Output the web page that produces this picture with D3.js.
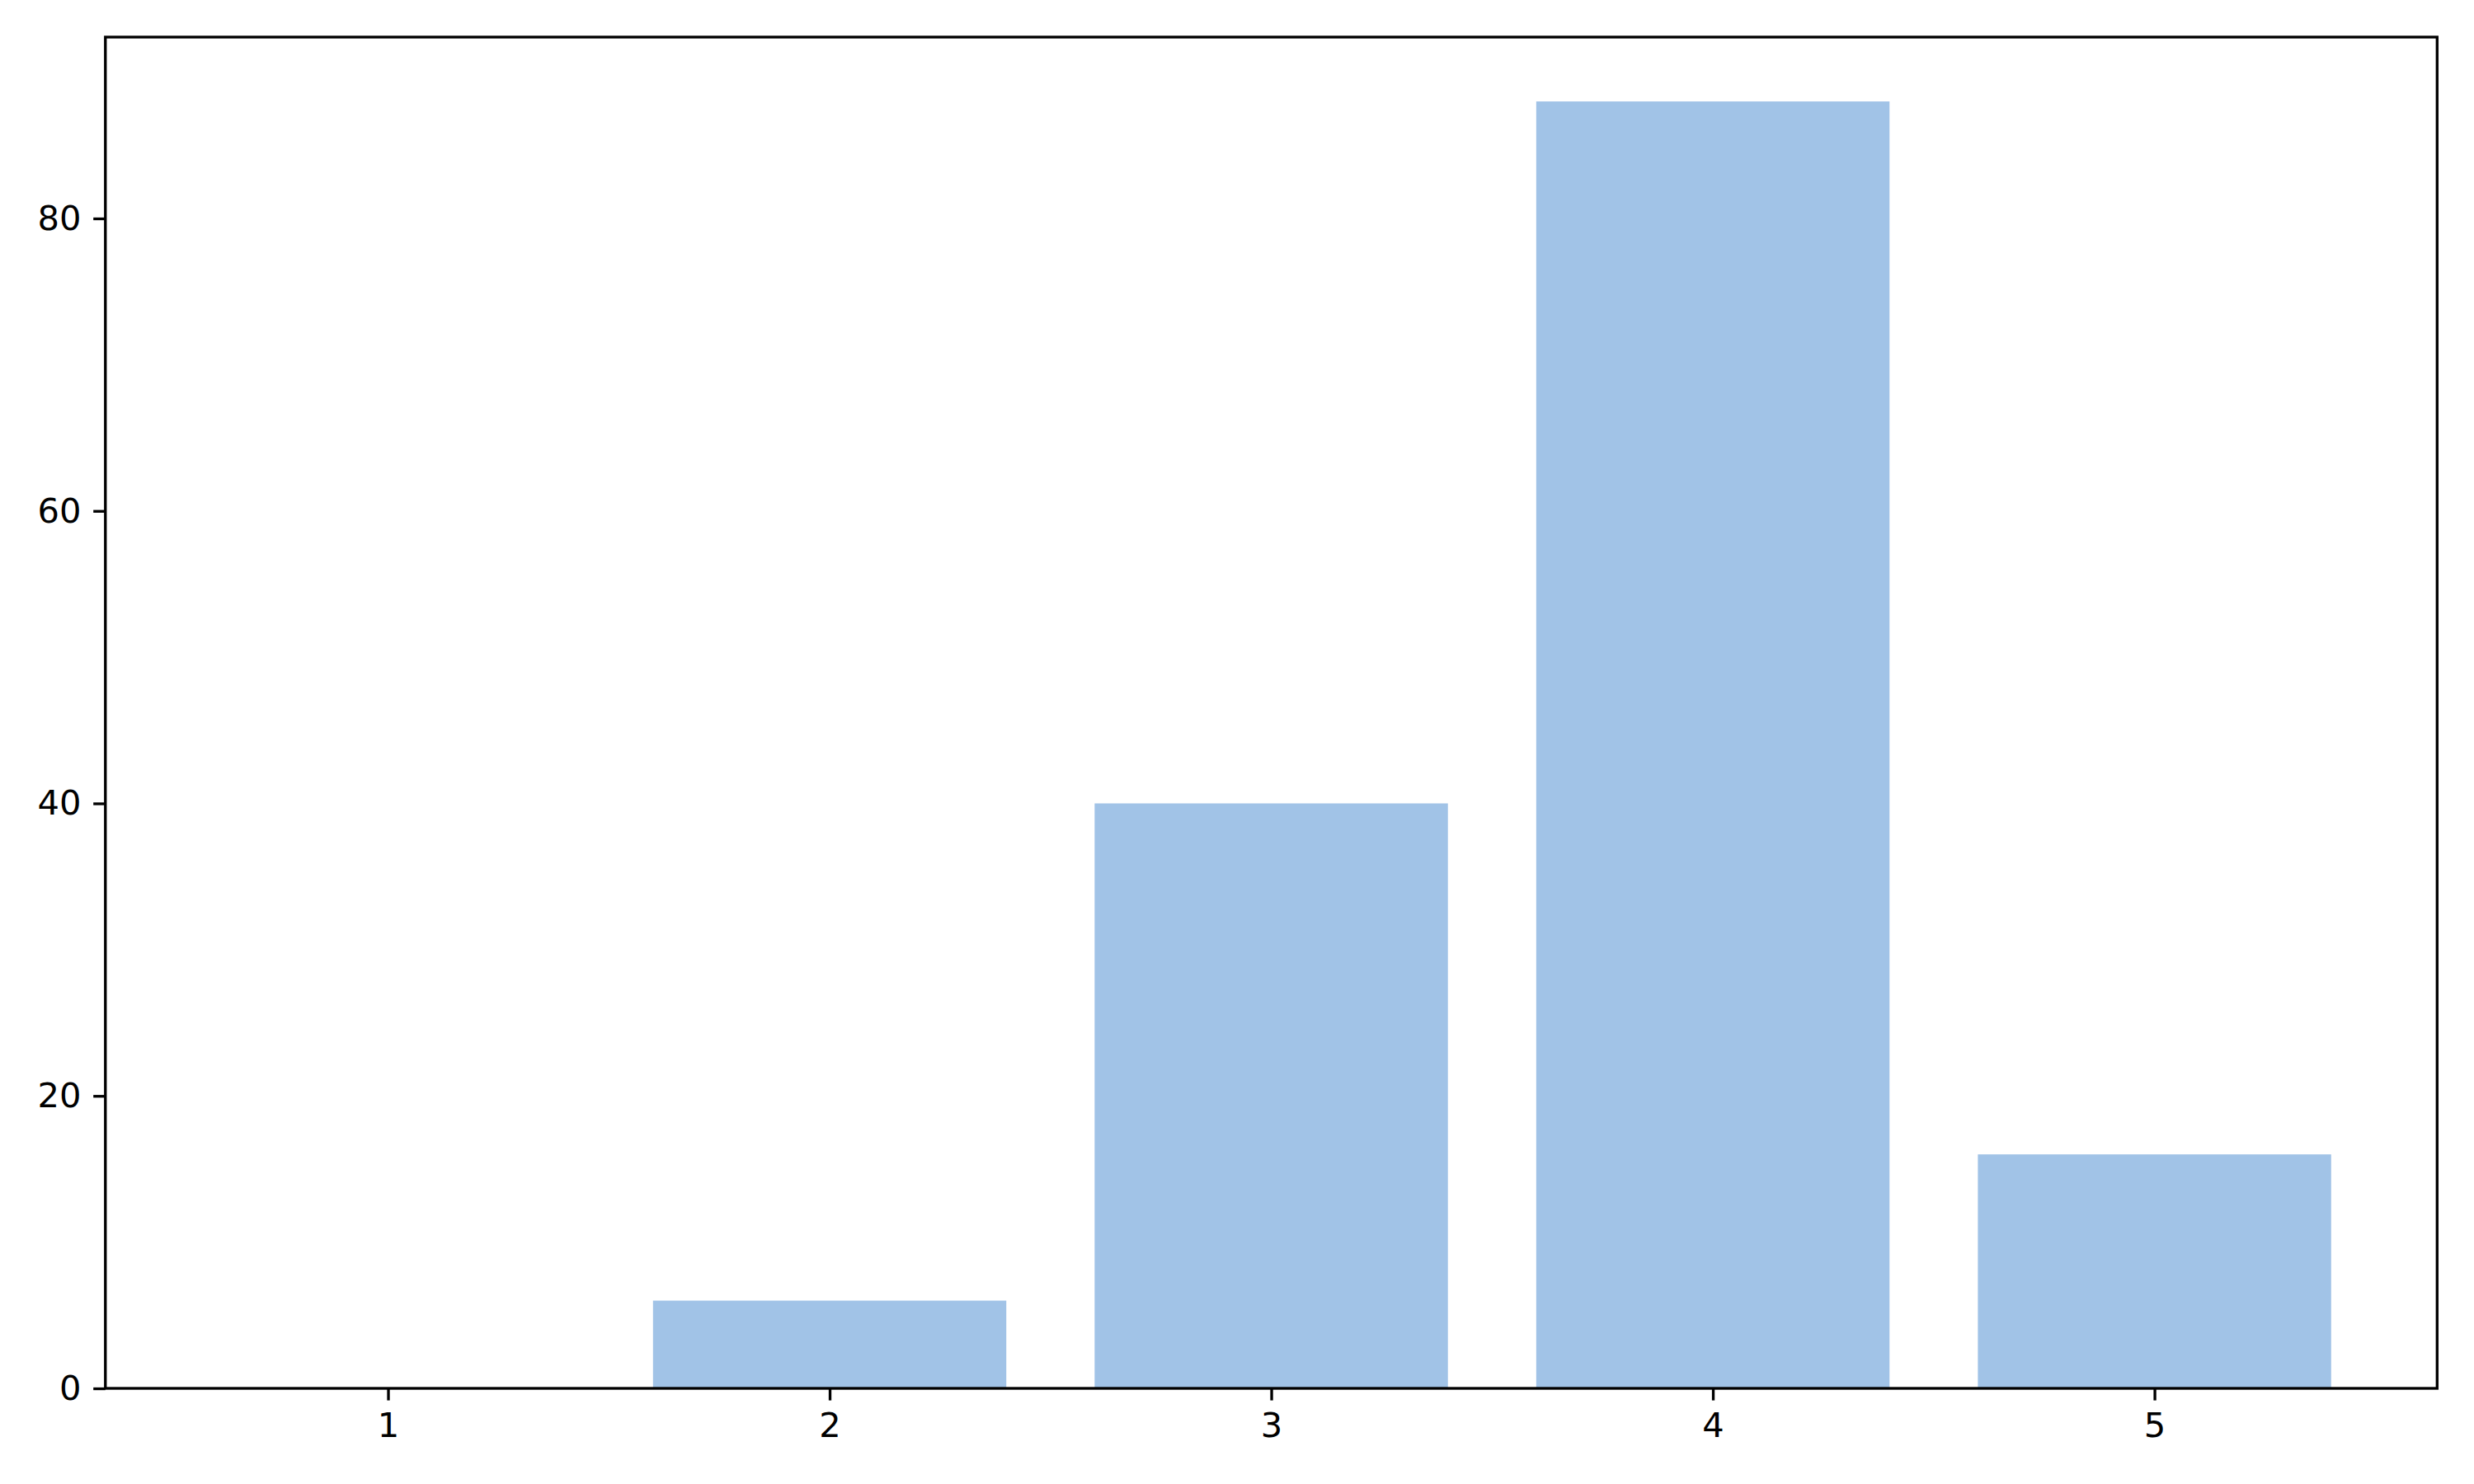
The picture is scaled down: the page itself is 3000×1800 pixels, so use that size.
<!DOCTYPE html>
<html>
<head>
<meta charset="utf-8">
<style>
  body { margin: 0; background: #fff; }
  svg { display: block; }
</style>
</head>
<body>
<svg width="3000" height="1800"></svg>
<script src="https://d3js.org/d3.v7.min.js"></script>
<script>
// bar data
var categories = [1, 2, 3, 4, 5];
var counts = [0, 6, 40, 88, 16];
var yTicks = [0, 20, 40, 60, 80];

var svg = d3.select("svg"),
    margin = {top: 45, right: 44.7, bottom: 116, left: 127.8},
    width = +svg.attr("width") - margin.left - margin.right,
    height = +svg.attr("height") - margin.top - margin.bottom,
    g = svg.append("g").attr("transform", "translate(" + margin.left + "," + margin.top + ")");

var barW = 0.8;

// matplotlib style 5% margins around the bar edges
var lo = d3.min(categories) - barW / 2, hi = d3.max(categories) + barW / 2;
var pad = (hi - lo) * 0.05;
var x = d3.scaleLinear()
    .domain([lo - pad, hi + pad])
    .range([0, width]);

var ymax = d3.max(counts) * 1.05;
var y = d3.scaleLinear()
    .domain([0, ymax])
    .range([height, 0]);

g.selectAll("rect.bar")
  .data(categories.map(function(c, i) { return {c: c, v: counts[i]}; }))
  .enter().append("rect")
    .attr("class", "bar")
    .attr("x", function(d) { return x(d.c - barW / 2); })
    .attr("width", function(d) { return x(d.c + barW / 2) - x(d.c - barW / 2); })
    .attr("y", function(d) { return y(d.v); })
    .attr("height", function(d) { return y(0) - y(d.v); })
    .attr("fill", "#a1c3e7");

var fontSize = 41.67, tickLen = 14.6, tickPad = 14.6, lw = 3.33;

var xaxis = g.append("g")
    .attr("transform", "translate(0," + height + ")")
    .call(d3.axisBottom(x).tickValues(categories).tickFormat(d3.format("d"))
      .tickSize(tickLen).tickPadding(tickPad));

var yaxis = g.append("g")
    .call(d3.axisLeft(y).tickValues(yTicks).tickFormat(d3.format("d"))
      .tickSize(tickLen).tickPadding(tickPad));

[xaxis, yaxis].forEach(function(a) {
  a.select(".domain").remove();
  a.selectAll(".tick line").attr("stroke", "#000").attr("stroke-width", lw);
  a.selectAll(".tick text")
    .attr("fill", "#000")
    .style("font-family", "'DejaVu Sans'")
    .style("font-size", fontSize + "px");
});

// frame
g.append("rect")
  .attr("x", 0).attr("y", 0)
  .attr("width", width).attr("height", height)
  .attr("fill", "none")
  .attr("stroke", "#000")
  .attr("stroke-width", lw)
  .attr("stroke-linejoin", "miter");
</script>
</body>
</html>
